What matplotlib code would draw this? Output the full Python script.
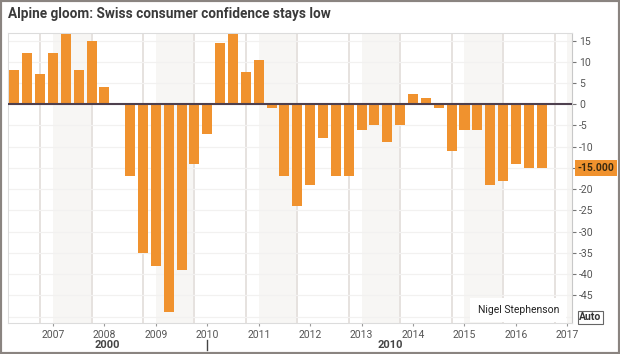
import numpy as np
import matplotlib
matplotlib.use("Agg")
import matplotlib.pyplot as plt
from matplotlib.patches import Rectangle

# quarterly survey values, first bar is 2006 Q2
start_year = 2006
start_quarter = 2
values = [8, 12, 7, 12, 16.5, 8, 15, 4,
          0,
          -17, -35, -38, -49, -39, -14, -7,
          14.5, 16.5, 7.5, 10.5,
          -1, -17, -24, -19,
          -8, -17, -17, -6, -5, -9, -5,
          2.5, 1.5,
          -1, -11, -6, -6, -19, -18, -14, -15, -15]
year_ticks = [2007, 2008, 2009, 2010, 2011, 2012, 2013, 2014, 2015, 2016, 2017]
y_ticks = [15, 10, 5, 0, -5, -10, -15, -20, -25, -30, -35, -40, -45]
last_label = "-15.000"
title = "Alpine gloom: Swiss consumer confidence stays low"

plt.rcParams['font.family'] = ['Roboto', 'DejaVu Sans']

fig = plt.figure(figsize=(6.2, 3.54), dpi=100)
fig.patch.set_facecolor("white")

ax = fig.add_axes([8/620, 1 - 323.3/354, 564/620, 290/354])

# bar positions in fractional years
x = np.array([start_year + (start_quarter - 1 + i) / 4 for i in range(len(values))])

ax.set_xlim(2006.125, 2017.09)
ax.set_ylim(-51.6, 16.7)

# alternating light bands and vertical grid lines
for yr in range(2005, 2018):
    if yr % 2 == 1:
        ax.axvspan(yr, yr + 0.75, color="#f7f6f4", zorder=0, lw=0)
    ax.axvline(yr + 0.75, color="#e6e2df", lw=1.4, zorder=1)
for t in range(-50, 20, 5):
    ax.axhline(t, color="#f2f1f0", lw=0.9, zorder=1)

ax.bar(x, values, width=0.195, color="#f0922e", zorder=3)
ax.axhline(0, color="#4e404e", lw=1.5, zorder=4)

# axes look
for s in ["left", "top", "bottom"]:
    ax.spines[s].set_color("#dcdcdc")
ax.spines["right"].set_color("#c8c8c8")
ax.yaxis.tick_right()
ax.set_yticks(y_ticks)
# the -15 tick label is hidden behind the last value box
ax.set_yticklabels(["" if t == -15 else str(t) for t in y_ticks], fontsize=7.5, color="#555555")
ax.tick_params(axis="y", length=3, width=0.8, color="#777777", pad=2)
ax.set_xticks(year_ticks)
ax.set_xticklabels([str(t) for t in year_ticks], fontsize=7.5, color="#555555")
ax.tick_params(axis="x", length=2, width=0.8, color="#999999", pad=2.5)

# decade labels under the years
ax.text(2008.05, -0.075, "2000", transform=ax.get_xaxis_transform(), ha="center",
        va="center", fontsize=8, fontweight="bold", color="#444444")
ax.text(2013.55, -0.075, "2010", transform=ax.get_xaxis_transform(), ha="center",
        va="center", fontsize=8, fontweight="bold", color="#444444")
ax.plot([2010, 2010], [-0.058, -0.092], transform=ax.get_xaxis_transform(),
        color="#444444", lw=1, clip_on=False)

# last value marker on the right axis
ax.text(1.01, values[-1], last_label, transform=ax.get_yaxis_transform(),
        ha="left", va="center", fontsize=7.5, fontweight="bold", color="#3a2a10",
        bbox=dict(boxstyle="square,pad=0.25", fc="#f0922e", ec="none"))

# credit and auto button
ax.text(0.977, 0.046, "Nigel Stephenson", transform=ax.transAxes, ha="right",
        va="center", fontsize=7.5, color="#222222", zorder=6,
        bbox=dict(boxstyle="square,pad=0.7", fc="white", ec="none"))
ax.text(1.013, 0.02, "Auto", transform=ax.transAxes, ha="left", va="center",
        fontsize=7.5, fontweight="bold", color="#333333",
        bbox=dict(boxstyle="square,pad=0.1", fc="white", ec="#666666", lw=0.8))

# title, shrunk until it is as wide as in the original
t = fig.text(8/620, 1 - 14/354, title, ha="left", va="center", fontsize=11.5,
             fontweight="bold", color="#3a3a3a")
fig.canvas.draw()
w = t.get_window_extent().width
t.set_fontsize(11.5 * min(1.0, 322 / w))

# grey frame around the picture
fig.patches.append(Rectangle((0, 0), 1, 1, transform=fig.transFigure, fill=False,
                             ec="#8a8480", lw=3))

fig.savefig("out.png", dpi=100)
